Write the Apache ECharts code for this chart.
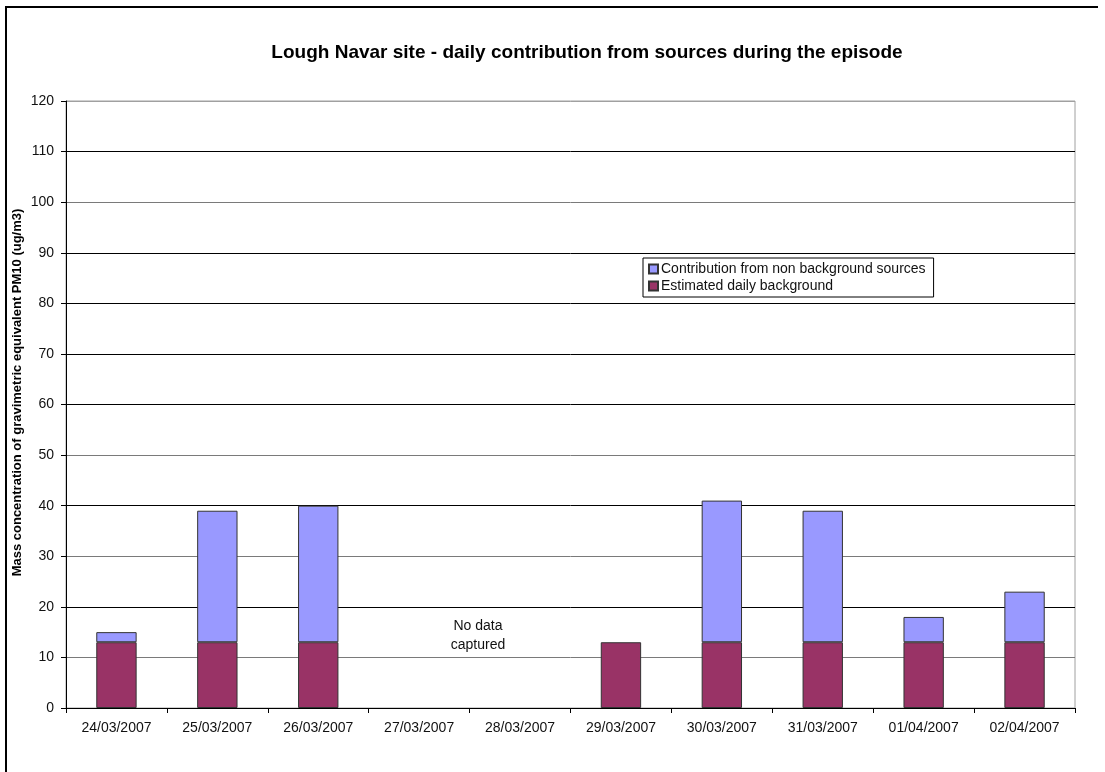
<!DOCTYPE html>
<html>
<head>
<meta charset="utf-8">
<script src="https://cdn.jsdelivr.net/npm/echarts@6/dist/echarts.min.js"></script>
<style>
html,body{margin:0;padding:0;background:#fff;}
#chart{width:1105px;height:772px;}
</style>
</head>
<body>
<div id="chart"></div>
<script>
const categories = ['24/03/2007','25/03/2007','26/03/2007','27/03/2007','28/03/2007','29/03/2007','30/03/2007','31/03/2007','01/04/2007','02/04/2007'];
const background = [13, 13, 13, null, null, 13, 13, 13, 13, 13];
const contribution = [2, 26, 27, null, null, null, 28, 26, 5, 10];
const yTicks = [0, 120, 10];

const chart = echarts.init(document.getElementById('chart'), null, {renderer: 'canvas'});
const font = '"Liberation Sans", Arial, sans-serif';
const option = {
  backgroundColor: '#fff',
  animation: false,
  title: {
    text: 'Lough Navar site - daily contribution from sources during the episode',
    left: 582, top: 38, textAlign: 'center',
    textStyle: {fontFamily: font, fontSize: 19, fontWeight: 'bold', color: '#000'}
  },
  legend: {
    orient: 'vertical',
    left: 643, top: 258,
    padding: [4, 8, 4, 5],
    itemGap: 3,
    itemWidth: 9, itemHeight: 9,
    icon: 'rect',
    borderColor: '#000', borderWidth: 1,
    data: ['Contribution from non background sources', 'Estimated daily background'],
    textStyle: {fontFamily: font, fontSize: 14, color: '#111', padding: [0,0,0,-2]}
  },
  grid: {left: 66, right: 30, top: 101, bottom: 64, show: true, borderColor: '#a0a0a0', borderWidth: 1, outerBoundsMode: 'none', containLabel: false},
  xAxis: {
    type: 'category',
    data: categories,
    axisLine: {lineStyle: {color: '#000', width: 1}},
    axisTick: {show: true, length: 5, lineStyle: {color: '#000'}},
    axisLabel: {fontFamily: font, fontSize: 14, color: '#111', margin: 13}
  },
  yAxis: {
    type: 'value',
    min: yTicks[0], max: yTicks[1], interval: yTicks[2],
    name: 'Mass concentration of gravimetric equivalent PM10 (ug/m3)',
    nameLocation: 'middle', nameGap: 42, nameRotate: 90, nameMoveOverlap: false,
    nameTextStyle: {fontFamily: font, fontSize: 13, fontWeight: 'bold', color: '#000', padding: [0, 0, 0, 24]},
    axisLine: {show: true, lineStyle: {color: '#000', width: 1}},
    axisTick: {show: true, length: 5, inside: false, lineStyle: {color: '#000'}},
    axisLabel: {fontFamily: font, fontSize: 14, color: '#111', margin: 12},
    splitLine: {show: true, lineStyle: {color: ['#000', '#7a7a7a', '#000', '#7a7a7a', '#000', '#7a7a7a', '#000', '#000', '#000', '#000', '#7a7a7a', '#000', '#a0a0a0'], width: 1}}
  },
  series: [
    {
      name: 'Estimated daily background', type: 'bar', stack: 'total',
      data: background, barWidth: '40%',
      itemStyle: {color: '#993366', borderColor: '#333', borderWidth: 1}
    },
    {
      name: 'Contribution from non background sources', type: 'bar', stack: 'total',
      data: contribution, barWidth: '40%',
      itemStyle: {color: '#9999FF', borderColor: '#333', borderWidth: 1}
    }
  ],
  graphic: [
    {type: 'line', shape: {x1: 5, y1: 7, x2: 1098, y2: 7}, style: {stroke: '#000', lineWidth: 2}},
    {type: 'line', shape: {x1: 6, y1: 6, x2: 6, y2: 772}, style: {stroke: '#000', lineWidth: 2}},
    {type: 'text', x: 478, y: 617, style: {text: 'No data\ncaptured', textAlign: 'center', fontFamily: font, fontSize: 14, fill: '#111', lineHeight: 19}}
  ]
};
chart.setOption(option);
</script>
</body>
</html>
